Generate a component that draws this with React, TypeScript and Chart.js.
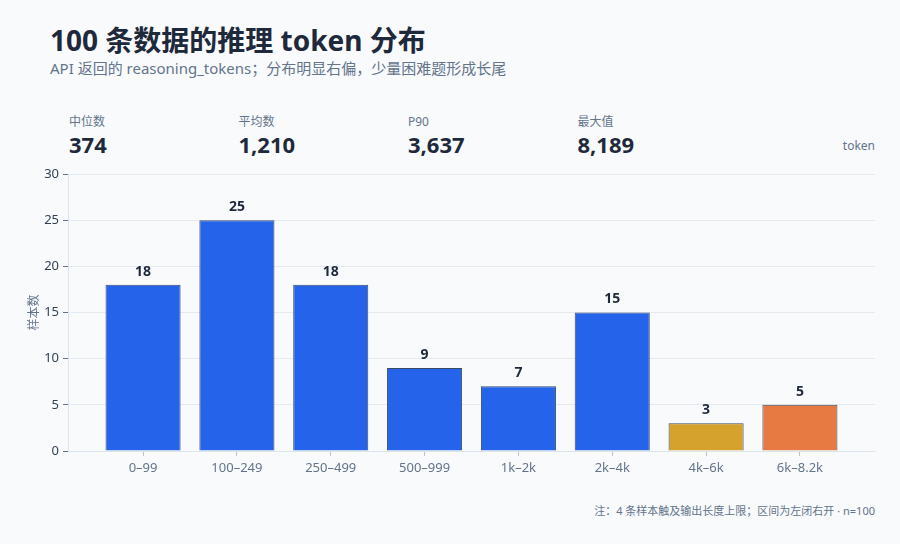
import React, { useEffect, useRef } from "react";
import { Chart, registerables } from "chart.js";

Chart.register(...registerables);

const categories = ["0–99", "100–249", "250–499", "500–999", "1k–2k", "2k–4k", "4k–6k", "6k–8.2k"];
const counts = [18, 25, 18, 9, 7, 15, 3, 5];
const barColors = ["#2563eb", "#2563eb", "#2563eb", "#2563eb", "#2563eb", "#2563eb", "#d6a22e", "#e67a42"];
const kpiLabels = ["中位数", "平均数", "P90", "最大值"];
const kpiValues = ["374", "1,210", "3,637", "8,189"];

const FONT = '"Noto Sans", "Noto Sans CJK SC", sans-serif';

const labelPlugin = {
  id: "barValueLabels",
  afterDatasetsDraw(chart: any) {
    const ctx = chart.ctx;
    const meta = chart.getDatasetMeta(0);
    ctx.save();
    ctx.font = `bold 14px ${FONT}`;
    ctx.fillStyle = "#1e293b";
    ctx.textAlign = "center";
    ctx.textBaseline = "bottom";
    meta.data.forEach((bar: any, i: number) => {
      ctx.fillText(String(counts[i]), bar.x, bar.y - 6);
    });
    ctx.restore();
  },
};

export default function App() {
  const canvasRef = useRef<HTMLCanvasElement | null>(null);

  useEffect(() => {
    document.body.style.margin = "0";
    document.body.style.background = "#f8fafc";
    const points = counts.map((v, i) => ({ x: i, y: v }));
    const chart = new Chart(canvasRef.current as HTMLCanvasElement, {
      type: "bar",
      data: {
        datasets: [
          {
            data: points,
            backgroundColor: barColors,
            borderColor: "#3b4a63",
            borderWidth: 1,
            barPercentage: 0.8,
            categoryPercentage: 1,
          },
        ],
      },
      options: {
        animation: false,
        responsive: true,
        maintainAspectRatio: false,
        parsing: { xAxisKey: "x", yAxisKey: "y" },
        layout: { padding: { top: 14, right: 10, left: 0, bottom: 0 } },
        plugins: { legend: { display: false }, tooltip: { enabled: false } },
        scales: {
          x: {
            type: "linear",
            min: -0.8,
            max: 7.8,
            offset: false,
            grid: { display: true, offset: false, drawOnChartArea: false, tickLength: 5, color: "#b8c2cf" },
            border: { display: true, color: "#dbe3ec" },
            ticks: {
              color: "#64748b",
              font: { family: FONT, size: 13 },
              padding: 4,
              callback: (v: any) => categories[Math.round(Number(v))] ?? "",
            },
            afterBuildTicks: (s: any) => {
              s.ticks = categories.map((_, i) => ({ value: i }));
            },
            afterFit: (s: any) => { s.height = 30; },
          },
          y: {
            min: 0,
            max: 30,
            ticks: { stepSize: 5, color: "#334155", font: { family: FONT, size: 13 }, padding: 4 },
            grid: { color: "#e5eaf0", tickLength: 5, tickColor: "#64748b" },
            border: { display: true, color: "#dbe3ec" },
            title: { display: true, text: "样本数", color: "#64748b", font: { family: FONT, size: 12 }, padding: 7 },
            afterFit: (s: any) => { s.width = 48; },
          },
        },
      },
      plugins: [labelPlugin],
    });
    return () => chart.destroy();
  }, []);

  return (
    <div style={{ position: "absolute", left: 0, top: 0, width: 900, height: 544, background: "#f8fafc", fontFamily: FONT, overflow: "hidden" }}>
      <div style={{ position: "absolute", left: 50, top: 19, fontSize: 28, fontWeight: 700, color: "#1e293b", lineHeight: "42px", whiteSpace: "nowrap" }}>
        100 条数据的推理 token 分布
      </div>
      <div style={{ position: "absolute", left: 50, top: 57, fontSize: 15, color: "#64748b", lineHeight: "22px", whiteSpace: "nowrap" }}>
        API 返回的 reasoning_tokens；分布明显右偏，少量困难题形成长尾
      </div>
      {kpiLabels.map((lab, i) => (
        <div key={lab} style={{ position: "absolute", left: 69 + i * 169.5, top: 114 }}>
          <div style={{ fontSize: 12, color: "#64748b", lineHeight: "16px" }}>{lab}</div>
          <div style={{ fontSize: 22, fontWeight: 700, color: "#1e293b", lineHeight: "28px" }}>{kpiValues[i]}</div>
        </div>
      ))}
      <div style={{ position: "absolute", right: 25, top: 137, fontSize: 12, color: "#64748b", lineHeight: "18px" }}>token</div>
      <div style={{ position: "absolute", left: 20, top: 160, width: 865, height: 321 }}>
        <canvas ref={canvasRef} />
      </div>
      <div style={{ position: "absolute", right: 25, top: 502, fontSize: 11, color: "#64748b", lineHeight: "18px", whiteSpace: "nowrap" }}>
        注：4 条样本触及输出长度上限；区间为左闭右开 · n=100
      </div>
    </div>
  );
}
